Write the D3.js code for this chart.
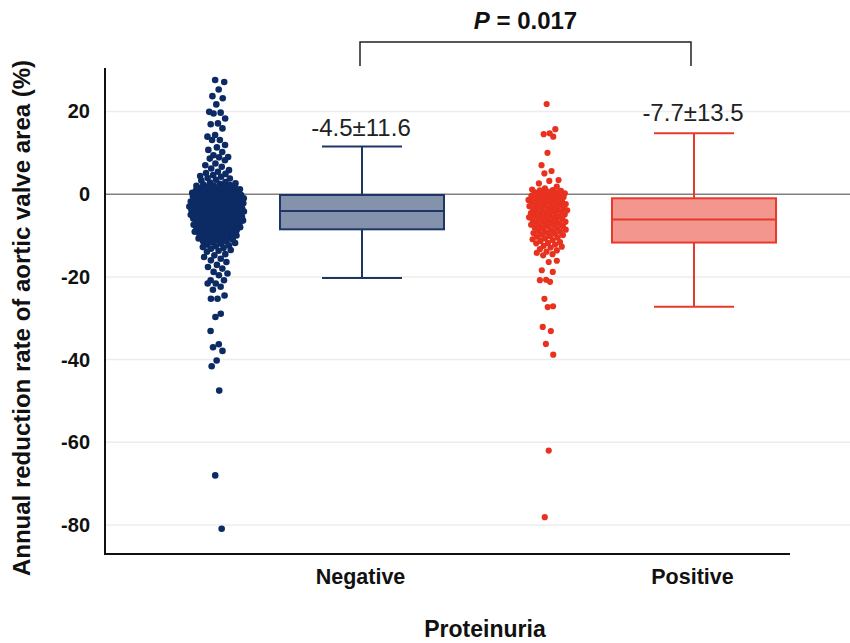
<!DOCTYPE html>
<html>
<head>
<meta charset="utf-8">
<script src="https://cdn.jsdelivr.net/npm/d3@7"></script>
<style>
  html, body { margin: 0; padding: 0; background: #fff; }
  svg { display: block; font-family: "Liberation Sans", Arial, sans-serif; }
</style>
</head>
<body>
<svg id="chart" width="850" height="643"></svg>
<script>
// ---------------- DATA ----------------
const categories = ["Negative", "Positive"];
const yTicks = [20, 0, -20, -40, -60, -80];
const gridValues = [20, -20, -40, -60, -80];

// box statistics: [lowWhisker, q1, median, q3, highWhisker]
const negativeBox = [-20.3, -8.5, -4.1, -0.2, 11.5];
const positiveBox = [-27.2, -11.7, -6.1, -1.0, 14.7];
const meanSdLabels = ["-4.5\u00b111.6", "-7.7\u00b113.5"];
const pValueText = "0.017";

// individual values (annual reduction rate, %)
const negativeValues = [
  27.6, 27.1, 25.3, 23.7, 23.2, 21.7, 19.9, 19.7, 19.5, 18.3, 17.1, 16.9, 15.9, 14.3, 13.9, 13.1, 13.1,
  11.9, 11.3, 10.7, 10.2, 9.4, 9.0, 8.9, 8.6, 8.2, 7.4, 7.0, 6.6, 6.2, 5.8, 5.4, 5.1, 4.9, 4.6, 4.4, 4.2,
  3.9, 3.8, 3.5, 3.3,
  2.9, 2.8, 2.6, 2.5, 2.3, 2.2, 2.1, 2.0,
  1.9, 1.8, 1.7, 1.6, 1.5, 1.4, 1.3, 1.2, 1.1, 1.0, 1.0,
  0.9, 0.9, 0.8, 0.7, 0.7, 0.6, 0.5, 0.4, 0.4, 0.3, 0.2, 0.2, 0.1, 0.1, 0.0,
  -0.1, -0.1, -0.2, -0.3, -0.3, -0.4, -0.5, -0.5, -0.6, -0.6, -0.7, -0.8, -0.8, -0.9, -0.9, -1.0, -1.0,
  -1.1, -1.1, -1.2, -1.3, -1.3, -1.4, -1.5, -1.5, -1.6, -1.6, -1.7, -1.8, -1.8, -1.9, -1.9, -2.0, -2.0,
  -2.1, -2.1, -2.2, -2.3, -2.3, -2.4, -2.5, -2.5, -2.6, -2.6, -2.7, -2.8, -2.8, -2.9, -2.9, -3.0, -3.0,
  -3.1, -3.1, -3.2, -3.3, -3.3, -3.4, -3.5, -3.5, -3.6, -3.6, -3.7, -3.8, -3.8, -3.9, -3.9, -4.0, -4.0,
  -4.1, -4.1, -4.2, -4.3, -4.3, -4.4, -4.5, -4.5, -4.6, -4.6, -4.7, -4.8, -4.8, -4.9, -4.9, -5.0, -5.0,
  -5.1, -5.2, -5.2, -5.3, -5.4, -5.5, -5.5, -5.6, -5.7, -5.7, -5.8, -5.9, -5.9, -6.0, -6.0,
  -6.1, -6.2, -6.3, -6.3, -6.4, -6.5, -6.6, -6.6, -6.7, -6.8, -6.8, -6.9, -7.0, -7.0,
  -7.1, -7.2, -7.3, -7.4, -7.4, -7.5, -7.6, -7.7, -7.8, -7.8, -7.9, -8.0, -8.0,
  -8.1, -8.2, -8.3, -8.4, -8.5, -8.6, -8.7, -8.8, -8.9, -9.0, -9.0,
  -9.1, -9.3, -9.4, -9.5, -9.6, -9.7, -9.8, -9.9, -10.0,
  -10.1, -10.3, -10.4, -10.5, -10.7, -10.8, -10.9, -11.0,
  -11.2, -11.4, -11.5, -11.7, -11.8, -12.0,
  -12.2, -12.4, -12.6, -12.8, -13.0,
  -13.2, -13.5, -13.7, -13.9,
  -14.5, -14.8, -15.2, -15.6, -16.0, -16.4, -17.1, -17.6, -18.0, -18.8, -19.2, -19.6, -20.8, -20.8,
  -21.6, -21.6, -22.4, -23.1, -24.5, -25.3, -25.3, -28.9, -29.7, -33.1, -36.3, -37.0, -37.9, -40.2,
  -41.6, -47.5, -68.0, -80.9
];

const positiveValues = [
  21.8, 15.7, 14.7, 14.5, 13.9, 10.0, 7.0, 5.6, 5.0, 3.4, 3.2, 2.6, 1.8, 1.4, 1.1, 1.0,
  0.9, 0.8, 0.6, 0.5, 0.4, 0.3, 0.2, 0.1,
  -0.1, -0.2, -0.3, -0.4, -0.5, -0.6, -0.7, -0.8, -0.9,
  -1.1, -1.3, -1.4, -1.5, -1.6, -1.7, -1.8, -1.9,
  -2.1, -2.2, -2.4, -2.5, -2.6, -2.7, -2.8, -2.9,
  -3.1, -3.2, -3.3, -3.5, -3.6, -3.7, -3.8, -3.9,
  -4.1, -4.2, -4.3, -4.5, -4.6, -4.7, -4.8, -4.9,
  -5.1, -5.2, -5.4, -5.5, -5.6, -5.7, -5.8, -5.9,
  -6.1, -6.3, -6.4, -6.5, -6.7, -6.8, -6.9,
  -7.1, -7.2, -7.4, -7.5, -7.7, -7.8, -7.9,
  -8.1, -8.3, -8.4, -8.6, -8.8, -8.9,
  -9.1, -9.3, -9.4, -9.6, -9.8, -9.9,
  -10.1, -10.3, -10.5, -10.7, -10.9,
  -11.1, -11.3, -11.6, -11.8, -11.9,
  -12.2, -12.5, -12.7, -12.9,
  -13.3, -13.6, -13.9,
  -14.2, -14.5, -14.8,
  -16.1, -16.4, -18.4, -18.8, -20.7, -20.8, -21.2, -25.3, -27.1, -27.3, -32.1, -33.1, -36.2, -38.8,
  -62.0, -78.1
];

// ---------------- CHART ----------------
const svg = d3.select("#chart");
const W = 850, H = 643;
const plot = { left: 105, right: 790, top: 68, bottom: 554 };

const y = d3.scaleLinear().domain([-87, 30.5]).range([plot.bottom, plot.top]);
const x = d3.scalePoint().domain(categories).range([360, 692]);

const groups = [
  { cat: "Negative", values: negativeValues, box: negativeBox, label: meanSdLabels[0],
    dot: "#0c2b65", fill: "#8592ab", stroke: "#1d3667", r: 3.3, hwMax: 28, dotShift: -143, labelDy: -11 },
  { cat: "Positive", values: positiveValues, box: positiveBox, label: meanSdLabels[1],
    dot: "#e8321f", fill: "#f3968d", stroke: "#e83a2c", r: 3.1, hwMax: 20, dotShift: -144, labelDy: -12 }
];

// gridlines
svg.append("g").selectAll("line").data(gridValues).join("line")
  .attr("x1", plot.left).attr("x2", W)
  .attr("y1", d => y(d)).attr("y2", d => y(d))
  .attr("stroke", "#ececec").attr("stroke-width", 1.5);

// zero reference line
svg.append("line")
  .attr("x1", plot.left).attr("x2", W)
  .attr("y1", y(0)).attr("y2", y(0))
  .attr("stroke", "#808080").attr("stroke-width", 1.5);

// sina-style jitter: spread proportional to local density
function kde(values, bw) {
  return v => d3.sum(values, d => Math.exp(-0.5 * ((v - d) / bw) ** 2));
}

groups.forEach(g => {
  const cx = x(g.cat) + g.dotShift;
  const dens = kde(g.values, 2.2);
  const dmax = d3.max(g.values, v => dens(v));
  const pts = g.values.map((v, i) => {
    const hw = 2.5 + (g.hwMax - 2.5) * Math.sqrt(dens(v) / dmax);
    const f = ((i * 0.6180339887 + 0.37) % 1) * 2 - 1;
    return { v, px: cx + f * hw };
  });
  svg.append("g").selectAll("circle").data(pts).join("circle")
    .attr("cx", d => d.px).attr("cy", d => y(d.v))
    .attr("r", g.r).attr("fill", g.dot);
});

// boxes
const boxW = 164, capW = 80;
groups.forEach(g => {
  const cx = x(g.cat) + 2;
  const [lo, q1, med, q3, hi] = g.box;
  const gg = svg.append("g").attr("stroke", g.stroke).attr("stroke-width", 2);
  gg.append("line").attr("x1", cx).attr("x2", cx).attr("y1", y(hi)).attr("y2", y(q3));
  gg.append("line").attr("x1", cx).attr("x2", cx).attr("y1", y(q1)).attr("y2", y(lo));
  gg.append("line").attr("x1", cx - capW / 2).attr("x2", cx + capW / 2).attr("y1", y(hi)).attr("y2", y(hi));
  gg.append("line").attr("x1", cx - capW / 2).attr("x2", cx + capW / 2).attr("y1", y(lo)).attr("y2", y(lo));
  gg.append("rect").attr("x", cx - boxW / 2).attr("width", boxW)
    .attr("y", y(q3)).attr("height", y(q1) - y(q3)).attr("fill", g.fill);
  gg.append("line").attr("x1", cx - boxW / 2).attr("x2", cx + boxW / 2).attr("y1", y(med)).attr("y2", y(med));
  svg.append("text").attr("x", cx - 1).attr("y", y(hi) + g.labelDy)
    .attr("text-anchor", "middle").attr("font-size", 24).attr("fill", "#222")
    .text(g.label);
});

// axes
const yAxis = d3.axisLeft(y).tickValues(yTicks).tickSize(0).tickPadding(15).tickFormat(d => String(d));
const yg = svg.append("g").attr("transform", `translate(${plot.left},0)`).call(yAxis);
yg.select(".domain").remove();
yg.selectAll("text").attr("font-size", 20).attr("font-weight", "bold").attr("fill", "#111")
  .attr("font-family", "Liberation Sans, Arial, sans-serif");

const xAxis = d3.axisBottom(x).tickSize(0).tickPadding(15);
const xg = svg.append("g").attr("transform", `translate(0,${plot.bottom})`).call(xAxis);
xg.select(".domain").remove();
xg.selectAll("text").attr("font-size", 21.5).attr("font-weight", "bold").attr("fill", "#111")
  .attr("font-family", "Liberation Sans, Arial, sans-serif");

svg.append("line").attr("x1", plot.left).attr("x2", plot.left)
  .attr("y1", plot.top).attr("y2", plot.bottom + 1)
  .attr("stroke", "#111").attr("stroke-width", 2);
svg.append("line").attr("x1", plot.left - 1).attr("x2", plot.right)
  .attr("y1", plot.bottom).attr("y2", plot.bottom)
  .attr("stroke", "#111").attr("stroke-width", 2);

// axis titles
svg.append("text").attr("transform", `translate(30,318) rotate(-90)`)
  .attr("text-anchor", "middle").attr("font-size", 24).attr("font-weight", "bold").attr("fill", "#111")
  .text("Annual reduction rate of aortic valve area (%)");
svg.append("text").attr("x", 485).attr("y", 637)
  .attr("text-anchor", "middle").attr("font-size", 23).attr("font-weight", "bold").attr("fill", "#111")
  .text("Proteinuria");

// significance bracket
const bx1 = x("Negative"), bx2 = x("Positive") - 1;
svg.append("path")
  .attr("d", `M${bx1},66V42H${bx2}V66`)
  .attr("fill", "none").attr("stroke", "#222").attr("stroke-width", 1.5);
const pt = svg.append("text").attr("x", (bx1 + bx2) / 2).attr("y", 29)
  .attr("text-anchor", "middle").attr("font-size", 24).attr("font-weight", "bold").attr("fill", "#111");
pt.append("tspan").attr("font-style", "italic").text("P");
pt.append("tspan").text(" = " + pValueText);
</script>
</body>
</html>
